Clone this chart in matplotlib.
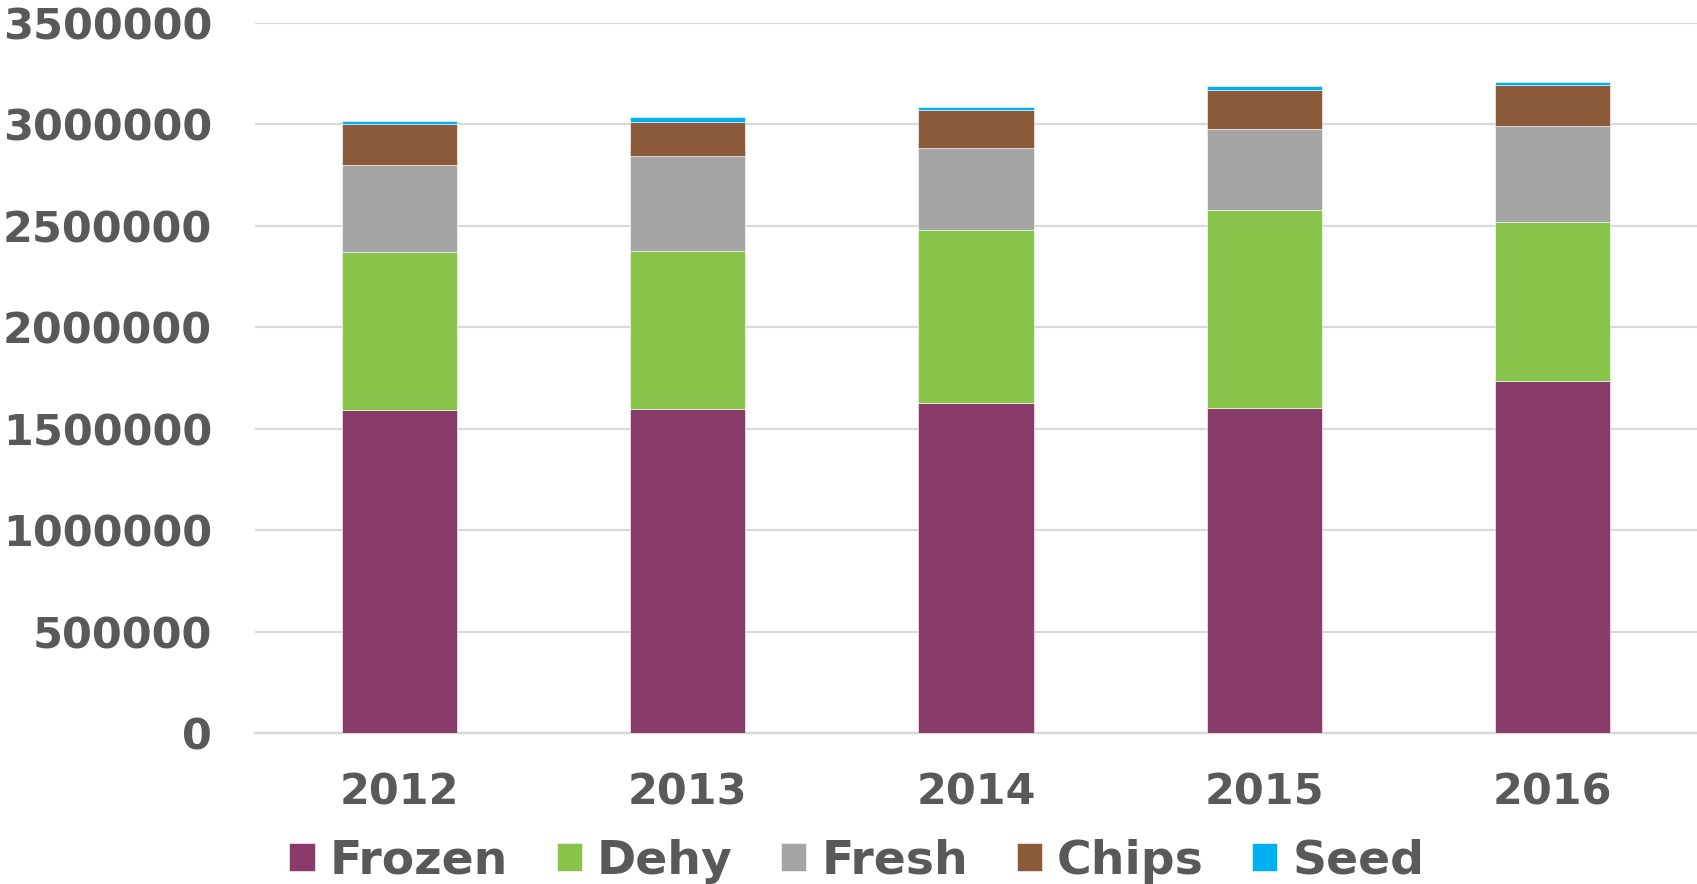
import matplotlib.pyplot as plt
import numpy as np

# values (tonnes)
years = ['2012', '2013', '2014', '2015', '2016']
frozen = [1590000, 1595000, 1625000, 1602000, 1735000]
dehy = [780000, 782000, 855000, 977000, 781000]
fresh = [427000, 465000, 405000, 395000, 474000]
chips = [206000, 171000, 184000, 195000, 204000]
seed = [12000, 20000, 16000, 18000, 15000]

series = [('Frozen', frozen, '#893C6A'),
          ('Dehy', dehy, '#88C34A'),
          ('Fresh', fresh, '#A5A5A5'),
          ('Chips', chips, '#8B5A3A'),
          ('Seed', seed, '#00B0F0')]

txt_col = '#595959'
grid_col = '#D9D9D9'

fig = plt.figure(figsize=(16.97, 8.84), dpi=100)
ax = fig.add_axes([0.1503, 0.1708, 0.8497, 0.8035])

x = np.arange(len(years))
bottom = np.zeros(len(years))
for name, vals, col in series:
    ax.bar(x, vals, width=0.4, bottom=bottom, color=col, label=name,
           edgecolor='white', linewidth=0.4, zorder=3)
    bottom += np.array(vals)

ax.set_xlim(-0.5, 4.5)
ax.set_ylim(0, 3500000)
ax.set_yticks(np.arange(0, 3500001, 500000))
ax.set_yticklabels([str(v) for v in range(0, 3500001, 500000)])
ax.set_xticks(x)
ax.set_xticklabels(years)

ax.yaxis.grid(True, color=grid_col, linewidth=1.6, zorder=0)
for s in ['top', 'right', 'left']:
    ax.spines[s].set_visible(False)
ax.spines['bottom'].set_color(grid_col)
ax.spines['bottom'].set_linewidth(1.6)

ax.tick_params(axis='both', length=0, labelsize=31, labelcolor=txt_col)
ax.tick_params(axis='y', pad=31)
ax.tick_params(axis='x', pad=28)
for lab in ax.get_xticklabels() + ax.get_yticklabels():
    lab.set_fontweight('bold')

fig.legend(loc='center', bbox_to_anchor=(0.505, 0.026), ncol=5, frameon=False,
           prop={'size': 34, 'weight': 'bold'}, labelcolor=txt_col,
           handlelength=0.53, handleheight=0.53, handletextpad=0.32,
           columnspacing=1.03, borderaxespad=0)

fig.savefig('out.png', dpi=100)
